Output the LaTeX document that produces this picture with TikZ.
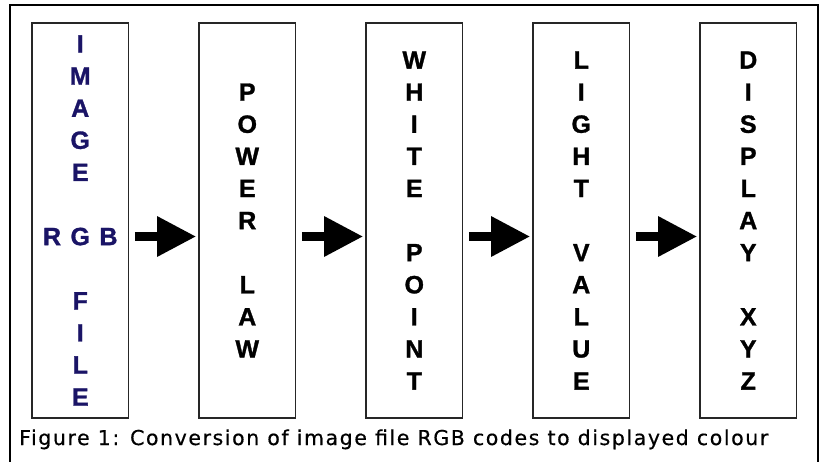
\documentclass[tikz,border=0pt]{standalone}
\usepackage{fontspec}
\setmainfont{Liberation Sans}
\newfontfamily\stagefont[FakeBold=1.2]{Liberation Sans Bold}
\newfontfamily\capfont[LetterSpace=7.7,FakeBold=0.5]{DejaVu Sans}
\usetikzlibrary{arrows.meta}
\definecolor{navy}{RGB}{26,20,102}
\begin{document}
\begin{tikzpicture}[x=1pt,y=-1pt,
  stage/.style={draw=black!85, line width=1.6pt, minimum width=96.5pt,
    minimum height=395pt, inner sep=0pt, align=center,
    font=\stagefont\fontsize{25}{32.1}\selectfont},
  flow/.style={line width=9pt, -{Triangle[length=39pt,width=38pt]},
    shorten <=5.5pt, shorten >=2pt}]
\useasboundingbox (0,0) rectangle (826,461);
\clip (0,0) rectangle (826,461);
% outer frame, open at the bottom edge
\draw[line width=2.7pt] (10,480) -- (10,5) -- (818,5) -- (818,480);
% processing stages
\node[stage, text=navy] (img) at (80.25,220.5)
  {I\\M\\A\\G\\E\\\mbox{}\\R\hspace{9.5pt}G\hspace{9.5pt}B\\\mbox{}\\F\\I\\L\\E};
\node[stage] (pow) at (247.25,220.5) {P\\O\\W\\E\\R\\\mbox{}\\L\\A\\W};
\node[stage] (wht) at (414.25,220.5) {W\\H\\I\\T\\E\\\mbox{}\\P\\O\\I\\N\\T};
\node[stage] (lgt) at (581.25,220.5) {L\\I\\G\\H\\T\\\mbox{}\\V\\A\\L\\U\\E};
\node[stage] (dsp) at (748.25,220.5) {D\\I\\S\\P\\L\\A\\Y\\\mbox{}\\X\\Y\\Z};
% connectors
\coordinate (ay) at (0,236.5);
\draw[flow] (img.east |- ay) -- (pow.west |- ay);
\draw[flow] (pow.east |- ay) -- (wht.west |- ay);
\draw[flow] (wht.east |- ay) -- (lgt.west |- ay);
\draw[flow] (lgt.east |- ay) -- (dsp.west |- ay);
% caption
\node[anchor=base west, inner sep=0pt, font=\capfont\fontsize{20.5}{24}\selectfont]
  (cap) at (19,445) {Figure 1: Conversion of image file RGB codes to displayed colour};
\end{tikzpicture}
\end{document}
